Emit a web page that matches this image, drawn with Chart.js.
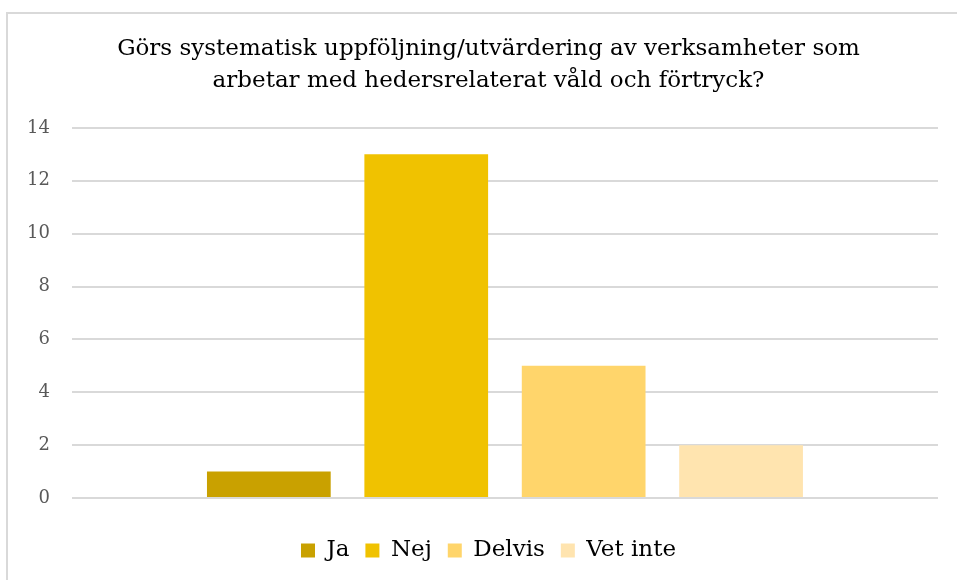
<!DOCTYPE html>
<html>
<head>
<meta charset="utf-8">
<script src="https://cdn.jsdelivr.net/npm/chart.js@4"></script>
<style>
  html, body { margin: 0; padding: 0; background: #fff; overflow: hidden; }
  #wrap { width: 957px; height: 580px; overflow: hidden; }
</style>
</head>
<body>
<div id="wrap"><canvas id="chartCanvas" width="975" height="580"></canvas></div>
<script>
// data
const seriesNames = ['Ja', 'Nej', 'Delvis', 'Vet inte'];
const seriesValues = [1, 13, 5, 2];
const seriesColors = ['#C9A100', '#F0C200', '#FFD56B', '#FFE4AF'];
const categories = [''];
const titleLines = [
  'Görs systematisk uppföljning/utvärdering av verksamheter som',
  'arbetar med hedersrelaterat våld och förtryck?'
];

const serif = "'DejaVu Serif', 'Liberation Serif', serif";

// grey frame round the chart (the picture is cropped, so only top and left show)
const framePlugin = {
  id: 'frame',
  beforeDraw(chart) {
    const ctx = chart.ctx;
    ctx.save();
    ctx.fillStyle = '#fff';
    ctx.fillRect(0, 0, chart.width, chart.height);
    ctx.strokeStyle = '#d9d9d9';
    ctx.lineWidth = 2;
    ctx.beginPath();
    ctx.moveTo(7, chart.height);
    ctx.lineTo(7, 13);
    ctx.lineTo(chart.width, 13);
    ctx.stroke();
    ctx.restore();
  }
};

const datasets = seriesNames.map((name, i) => ({
  label: name,
  data: [seriesValues[i]],
  backgroundColor: seriesColors[i],
  borderWidth: 0,
  barPercentage: 0.786,
  categoryPercentage: 0.727
}));

new Chart(document.getElementById('chartCanvas').getContext('2d'), {
  type: 'bar',
  data: { labels: categories, datasets: datasets },
  plugins: [framePlugin],
  options: {
    responsive: false,
    animation: false,
    layout: { padding: { left: 5, right: 3, top: 20, bottom: 8 } },
    plugins: {
      title: {
        display: true,
        text: titleLines,
        color: '#000',
        font: { family: serif, size: 23, weight: 'normal', lineHeight: 1.39 },
        padding: { top: 13, bottom: 31 }
      },
      legend: {
        position: 'bottom',
        labels: {
          boxWidth: 14,
          boxHeight: 14,
          padding: 16,
          color: '#000',
          font: { family: serif, size: 23 }
        }
      },
      tooltip: { enabled: false }
    },
    scales: {
      x: {
        ticks: { display: false },
        grid: { display: false },
        border: { display: false },
        afterFit(scale) { scale.height += 17; }
      },
      y: {
        min: 0,
        max: 14,
        ticks: {
          stepSize: 2,
          color: '#595959',
          padding: 22,
          font: { family: serif, size: 18 }
        },
        grid: { color: '#d9d9d9', lineWidth: 2, drawTicks: false },
        border: { display: false }
      },
      // empty right-hand margin of the plot area
      yRight: {
        position: 'right',
        min: 0,
        max: 14,
        ticks: { display: false },
        grid: { display: false },
        border: { display: false },
        afterFit(scale) { scale.width = 34; }
      }
    }
  }
});
</script>
</body>
</html>
